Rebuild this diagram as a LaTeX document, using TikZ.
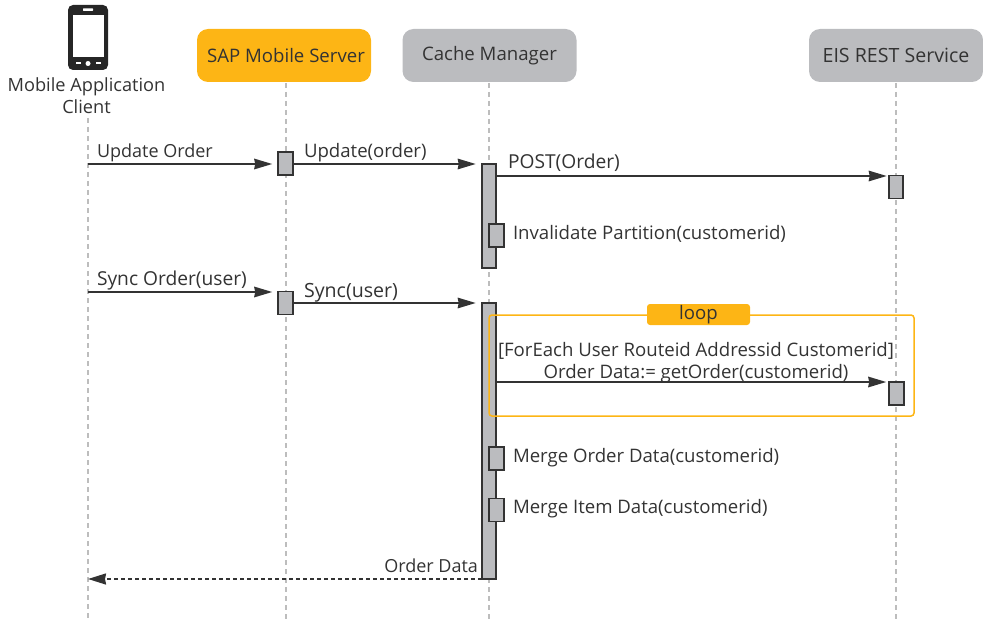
\documentclass[tikz,border=0pt]{standalone}
\usepackage{fontspec}
\setmainfont{Open Sans}
\usetikzlibrary{arrows.meta}
\definecolor{sapgold}{HTML}{FDB515}
\definecolor{sapgray}{HTML}{BBBCBF}
\definecolor{ink}{HTML}{333333}
\definecolor{lifegray}{HTML}{BDBDBD}
\tikzset{
 x=1pt,y=-1pt,
 every node/.style={inner sep=0pt,outer sep=0pt,text=ink,font=\fontsize{18.6}{22}\selectfont},
 head/.style={rounded corners=11pt,minimum width=174pt,minimum height=53pt,draw=none},
 lifeline/.style={draw=lifegray,line width=1.3pt,dash pattern=on 5pt off 4pt},
 actbox/.style={draw=ink,line width=1.9pt,fill=sapgray,minimum width=14.5pt},
 msg/.style={draw=ink,line width=1.9pt,-{Stealth[length=18pt,width=10.5pt,inset=1pt]},shorten >=6pt},
 ret/.style={draw=ink,line width=1.9pt,dash pattern=on 4pt off 3pt,-{Stealth[length=18pt,width=11pt,inset=1pt]}},
 lab/.style={anchor=base west},
 small/.style={font=\fontsize{18}{22}\selectfont},
 wide/.style={font=\fontsize{19.2}{22}\selectfont},
}
\begin{document}
\begin{tikzpicture}
\useasboundingbox (0,0) rectangle (983,623);
% phone
\fill[black!85,rounded corners=5pt] (68,5) rectangle (108,70);
\fill[white] (73,15) rectangle (104,57.5);
\fill[white,rounded corners=.5pt] (83,8.5) rectangle (93,11);
\fill[white] (88,63.5) circle (2.5pt);
\fill[white] (75.5,62.5) rectangle (80.5,64.5);
\fill[white] (96,62.5) rectangle (101,64.5);
% heads
\node[align=center,font=\fontsize{18.2}{22}\selectfont] (client) at (86.5,96) {Mobile Application\\Client};
\node[head,fill=sapgold] (sap) at (284,55.5) {\hspace{4pt}SAP Mobile Server};
\node[head,fill=sapgray] (cache) at (489.5,55.5) {Cache Manager};
\node[head,fill=sapgray,font=\fontsize{19.6}{22}\selectfont] (eis) at (896,55.5) {EIS REST Service};
% lifeline ends
\coordinate (clientTop) at (88,118);
\coordinate (clientEnd) at (88,620);
\coordinate (sapTop) at (286,83);
\coordinate (sapEnd) at (286,620);
\coordinate (cacheTop) at (489,83);
\coordinate (cacheEnd) at (489,620);
\coordinate (eisTop) at (896,83);
\coordinate (eisEnd) at (896,620);
\draw[lifeline] (clientTop) -- (clientEnd);
\draw[lifeline] (sapTop) -- (sapEnd);
\draw[lifeline] (cacheTop) -- (cacheEnd);
\draw[lifeline] (eisTop) -- (eisEnd);
% activations
\node[actbox,minimum height=23pt] (a1) at (285.5,163.5) {};
\node[actbox,minimum height=104pt] (a2) at (489,216) {};
\node[actbox,minimum height=23pt] (a3) at (496.5,235.5) {};
\node[actbox,minimum height=23pt] (a4) at (896,187) {};
\node[actbox,minimum height=23pt] (a5) at (285.5,303) {};
\node[actbox,minimum height=276pt] (a6) at (489,441) {};
\node[actbox,minimum height=23pt] (a7) at (896.5,393.5) {};
\node[actbox,minimum height=23pt] (a8) at (496.5,458.5) {};
\node[actbox,minimum height=23pt] (a9) at (496.5,510) {};
% loop frame
\node[draw=sapgold,line width=1.5pt,rounded corners=3pt,minimum width=425pt,minimum height=101pt] (frame) at (701.5,365.5) {};
\node[fill=sapgold,rounded corners=3pt,minimum width=103pt,minimum height=21pt] (loop) at (698.5,314.5) {loop\hspace{5pt}};
% messages
\coordinate (m1) at (88,164);
\coordinate (m2) at (88,292);
\coordinate (m3) at (88,579);
\coordinate (y4) at (0,176);
\coordinate (y5) at (0,303);
\coordinate (y6) at (0,382);
\draw[msg] (m1) -- (a1.west |- m1);
\draw[msg] (a1.east |- m1) -- (a2.west |- m1);
\draw[msg,shorten >=2pt] (a2.east |- y4) -- (a4.west |- y4);
\draw[msg] (m2) -- (a5.west |- m2);
\draw[msg] (a5.east |- y5) -- (a6.west |- y5);
\draw[msg,shorten >=3pt] (a6.east |- y6) -- (a7.west |- y6);
\draw[ret] (a6.west |- m3) -- (m3);
% labels
\node[lab,small] (l1) at (97,158) {Update Order};
\node[lab] (l2) at (304,158) {Update(order)};
\node[lab,wide] (l3) at (508,168) {POST(Order)};
\node[lab] (l4) at (513,239) {Invalidate Partition(customerid)};
\node[lab,wide] (l5) at (97,285) {Sync Order(user)};
\node[lab,font=\fontsize{19.6}{22}\selectfont] (l6) at (304,297) {Sync(user)};
\node[anchor=base] (l7) at (696,356.5) {[ForEach User Routeid Addressid Customerid]};
\node[anchor=base] (l8) at (696,378) {Order Data:= getOrder(customerid)};
\node[lab] (l9) at (513,462) {Merge Order Data(customerid)};
\node[lab] (l10) at (513,513) {Merge Item Data(customerid)};
\node[anchor=base east,small] (l11) at (478,572) {Order Data};
\end{tikzpicture}
\end{document}
